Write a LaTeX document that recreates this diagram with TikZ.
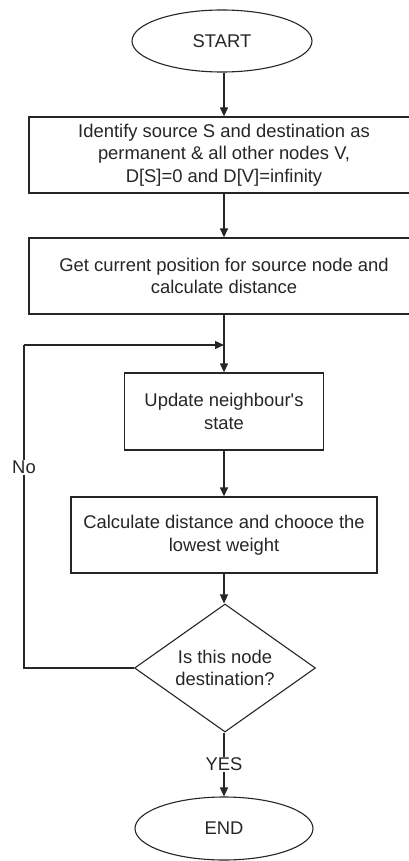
\documentclass[tikz,border=0pt]{standalone}
\usepackage{fontspec}
\setmainfont{Liberation Sans}
\usetikzlibrary{shapes.geometric,arrows.meta}
\tikzset{
  every node/.style={font=\fontsize{18.4}{22.5}\selectfont, text=black!85},
  arr/.style={-{Triangle[length=9pt,width=8pt]}, line width=1.3pt, draw=black!85},
  ln/.style={line width=1.3pt, draw=black!85},
  procbox/.style={rectangle, draw=black!85, line width=1.3pt, align=center, inner sep=0pt},
  term/.style={ellipse, draw=black!85, line width=1.1pt, inner sep=0pt, minimum width=180pt, minimum height=62pt},
  decis/.style={diamond, draw=black!85, line width=1.1pt, align=center, inner sep=0pt, minimum width=181pt, minimum height=128pt, aspect=1.41},
  lbl/.style={fill=white, inner sep=1pt}
}
\begin{document}
\begin{tikzpicture}[x=1pt,y=-1pt]
\useasboundingbox (0,0) rectangle (409,861);
\fill[white] (0,0) rectangle (409,861);
\node[term] (start) at (222,41) {START};
\node[procbox, minimum width=390pt, minimum height=76pt] (b1) at (224,155)
  {Identify source S and destination as\\permanent \& all other nodes V,\\D[S]=0 and D[V]=infinity};
\node[procbox, minimum width=390pt, minimum height=76pt] (b2) at (224,276)
  {Get current position for source node and\\calculate distance};
\node[procbox, minimum width=199pt, minimum height=77pt] (b3) at (224,411.5)
  {Update neighbour\textquotesingle s\\state};
\node[procbox, minimum width=306pt, minimum height=76pt] (b4) at (224,535)
  {Calculate distance and chooce the\\lowest weight};
\node[decis] (dec) at (225,668) {Is this node\\destination?};
\node[term, minimum width=178pt, minimum height=63pt] (end) at (224,828.5) {END};
\coordinate (loopj) at (224,345);
\coordinate (lc) at (24,668);
\coordinate (lt) at (24,345);
\draw[arr] (start.south -| b1.north) -- (b1.north);
\draw[arr] (b1) -- (b2);
\draw[arr] (b2) -- (b3);
\draw[arr] (b3) -- (b4);
\draw[arr] (b4.south) -- (b4.south |- dec.north);
\draw[ln] (dec.west) -- (lc) -- node[lbl, pos=0.62] (no) {No} (lt);
\draw[arr] (lt) -- (loopj);
\draw[arr] (dec.south -| end.north) -- node[lbl, pos=0.5] (yes) {YES} (end.north);
\end{tikzpicture}
\end{document}
